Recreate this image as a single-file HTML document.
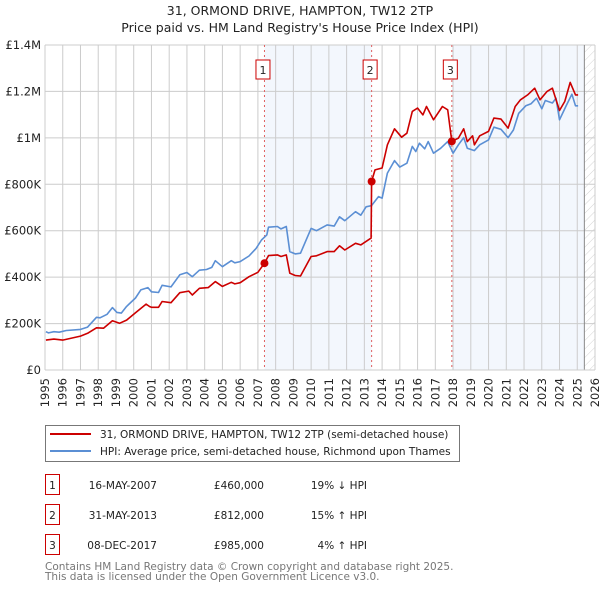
<!DOCTYPE html>
<html><head><meta charset="utf-8">
<style>
body{margin:0;background:#fff;}
svg{display:block;font-family:"DejaVu Sans","Liberation Sans",sans-serif;}
</style></head>
<body>
<svg id="chart" width="600" height="590" viewBox="0 0 600 590" xmlns="http://www.w3.org/2000/svg">
<defs>
<pattern id="hatch" width="6" height="6" patternUnits="userSpaceOnUse" patternTransform="rotate(45)">
<line x1="0" y1="0" x2="0" y2="6" stroke="#d4d4d4" stroke-width="1"/>
</pattern>
</defs>
<text x="300" y="15" text-anchor="middle" font-size="12.5" fill="#222">31, ORMOND DRIVE, HAMPTON, TW12 2TP</text>
<text x="300" y="32" text-anchor="middle" font-size="12.5" fill="#222">Price paid vs. HM Land Registry's House Price Index (HPI)</text>
<g id="plot"></g>
<g>
<rect x="45.5" y="425.5" width="414" height="36" fill="#fff" stroke="#777"/>
<line x1="50" y1="434" x2="91" y2="434" stroke="#cc0000" stroke-width="2"/>
<text x="100" y="438" font-size="10.5" fill="#222">31, ORMOND DRIVE, HAMPTON, TW12 2TP (semi-detached house)</text>
<line x1="50" y1="451" x2="91" y2="451" stroke="#5b8fd4" stroke-width="2"/>
<text x="100" y="455" font-size="10.5" fill="#222">HPI: Average price, semi-detached house, Richmond upon Thames</text>
</g>
<g id="table" font-size="10.5" fill="#222"></g>
<text x="45" y="570" font-size="10.5" fill="#777">Contains HM Land Registry data © Crown copyright and database right 2025.</text>
<text x="45" y="580" font-size="10.5" fill="#777">This data is licensed under the Open Government Licence v3.0.</text>
</svg>
<script>
const hpiYears=[1995.05,1995.2,1995.5,1995.8,1996.2,1997,1997.4,1997.9,1998.1,1998.5,1998.8,1999.05,1999.3,1999.6,2000.1,2000.4,2000.8,2001,2001.4,2001.6,2002.1,2002.6,2003,2003.3,2003.7,2004.1,2004.4,2004.6,2005,2005.5,2005.7,2006,2006.5,2006.9,2007.2,2007.5,2007.6,2008.1,2008.3,2008.6,2008.8,2009.1,2009.4,2010,2010.3,2010.9,2011.3,2011.6,2011.9,2012.5,2012.8,2013.1,2013.4,2013.8,2014,2014.3,2014.7,2015,2015.4,2015.7,2015.9,2016.1,2016.4,2016.6,2016.9,2017.3,2017.7,2018,2018.3,2018.6,2018.8,2019.2,2019.5,2020,2020.3,2020.7,2021.1,2021.4,2021.7,2022.1,2022.4,2022.7,2023,2023.2,2023.6,2023.8,2024,2024.4,2024.7,2024.9,2025.05];
const hpiValues=[165,160,165,163,170,175,185,227,225,240,269,248,245,274,310,345,355,337,334,365,358,410,420,402,430,433,442,471,445,471,462,467,491,524,560,582,615,618,608,618,510,500,503,610,600,625,620,660,643,682,667,703,708,747,740,848,902,874,891,963,941,977,953,984,934,955,984,934,970,1001,955,945,970,991,1046,1037,1001,1034,1106,1138,1147,1171,1125,1161,1150,1171,1078,1142,1188,1138,1138];
const priceYears=[1995.05,1995.5,1996,1997,1997.4,1997.9,1998.3,1998.8,1999.2,1999.6,2000.1,2000.7,2000.9,2001,2001.4,2001.6,2002.1,2002.6,2003.1,2003.3,2003.7,2004.2,2004.6,2005,2005.5,2005.7,2006,2006.5,2007,2007.37,2007.6,2008.1,2008.3,2008.6,2008.8,2009.1,2009.4,2010,2010.3,2010.9,2011.3,2011.6,2011.9,2012.5,2012.8,2013.38,2013.41,2013.6,2014,2014.3,2014.7,2015.1,2015.4,2015.7,2016,2016.3,2016.5,2016.9,2017.4,2017.7,2017.93,2018.3,2018.6,2018.8,2019.1,2019.2,2019.5,2020,2020.3,2020.7,2021.1,2021.5,2021.8,2022.2,2022.6,2022.9,2023.3,2023.6,2024,2024.3,2024.6,2024.9,2025.05];
const priceValues=[129,133,129,146,158,182,180,212,201,215,247,284,273,270,270,295,290,333,340,323,352,355,381,360,378,371,376,402,421,460,493,496,489,496,417,407,405,489,492,510,510,535,517,546,539,568,812,862,870,970,1039,1003,1020,1114,1128,1099,1135,1078,1135,1121,985,999,1039,984,1009,970,1009,1028,1085,1081,1042,1135,1164,1185,1214,1164,1200,1214,1118,1157,1239,1185,1185];
const saleYears=[2007.37,2013.41,2017.93];
const saleValues=[460,812,985];
const saleLabels=["1","2","3"];
const saleDates=["16-MAY-2007","31-MAY-2013","08-DEC-2017"];
const salePrices=["£460,000","£812,000","£985,000"];
const saleHpi=["19% ↓ HPI","15% ↑ HPI","4% ↑ HPI"];
const yTicks=[0,200,400,600,800,1000,1200,1400];
const yTickLabels=["£0","£200K","£400K","£600K","£800K","£1M","£1.2M","£1.4M"];
const xStart=1995,xEnd=2026,dataEnd=2025.4;

const NS="http://www.w3.org/2000/svg";
const L=45,R=595,T=45,B=370;
const xs=y=>L+(y-xStart)/(xEnd-xStart)*(R-L);
const ys=v=>B-v/1400*(B-T);
const plot=document.getElementById('plot');
function mk(tag,attrs,parent){const e=document.createElementNS(NS,tag);for(const k in attrs)e.setAttribute(k,attrs[k]);(parent||plot).appendChild(e);return e;}

let s=mk('rect',{x:xs(saleYears[0]),y:T,width:xs(saleYears[1])-xs(saleYears[0]),height:B-T,fill:'#eef3fc',opacity:0.7});


s=mk('rect',{x:xs(saleYears[2]),y:T,width:xs(dataEnd)-xs(saleYears[2]),height:B-T,fill:'#eef3fc',opacity:0.7});


s=mk('rect',{x:xs(dataEnd),y:T,width:R-xs(dataEnd),height:B-T,fill:'url(#hatch)'});



for(let yr=xStart;yr<=xEnd;yr++){
  const x=xs(yr);
  const g=mk('line',{x1:x,x2:x,y1:T,y2:B,stroke:'#ccc','stroke-width':1});
  
  
  const t=mk('text',{x:0,y:0,'font-size':11.5,fill:'#222','text-anchor':'end',transform:`translate(${x+4},${B+8}) rotate(-90)`});
  t.textContent=yr;
  
  
}
yTicks.forEach((v,i)=>{
  const y=ys(v);
  const g=mk('line',{x1:L,x2:R,y1:y,y2:y,stroke:'#ccc','stroke-width':1});
  
  
  const t=mk('text',{x:L-4,y:y+4,'font-size':11.5,fill:'#222','text-anchor':'end'});
  t.textContent=yTickLabels[i];
  
  
});
const dl=mk('line',{x1:xs(dataEnd),x2:xs(dataEnd),y1:T,y2:B,stroke:'#888','stroke-width':1});



saleYears.forEach((yr,i)=>{
  const x=xs(yr);
  const l=mk('line',{x1:x,x2:x,y1:T,y2:B,stroke:'#e06060','stroke-width':1,'stroke-dasharray':'2,3'});
  
  
  const bx=mk('rect',{x:x-8.5,y:60,width:14,height:19,fill:'#fff',stroke:'#c00','stroke-width':1});
  
  
  const t=mk('text',{x:x-1.5,y:74,'font-size':11,fill:'#222','text-anchor':'middle'});
  t.textContent=saleLabels[i];
  
  
});

function line(xsArr,vals,color,name){
  const d=xsArr.map((yr,i)=>(i?'L':'M')+xs(yr).toFixed(1)+','+ys(vals[i]).toFixed(1)).join('');
  const p=mk('path',{d:d,fill:'none',stroke:color,'stroke-width':1.6,'stroke-linejoin':'round'});
  
  
}
line(hpiYears,hpiValues,'#5b8fd4','hpi-line');
line(priceYears,priceValues,'#cc0000','price-line');
saleYears.forEach((yr,i)=>{
  const c=mk('circle',{cx:xs(yr),cy:ys(saleValues[i]),r:4,fill:'#cc0000'});
  
  
});
const ax=mk('line',{x1:L,x2:R,y1:B,y2:B,stroke:'#ccc'});



const tb=document.getElementById('table');
saleLabels.forEach((lab,i)=>{
  const cy=485+i*30;
  const r=mk('rect',{x:45.5,y:cy-10.5,width:14,height:20,fill:'#fff',stroke:'#c00'},tb);
  
  
  const cells=[[52.5,lab,'middle'],[157,saleDates[i],'end'],[264,salePrices[i],'end'],[367,saleHpi[i],'end']];
  cells.forEach(c=>{
    const t=mk('text',{x:c[0],y:cy+4,'text-anchor':c[2]},tb);
    t.textContent=c[1];
    
    
  });
});
</script>
</body></html>
